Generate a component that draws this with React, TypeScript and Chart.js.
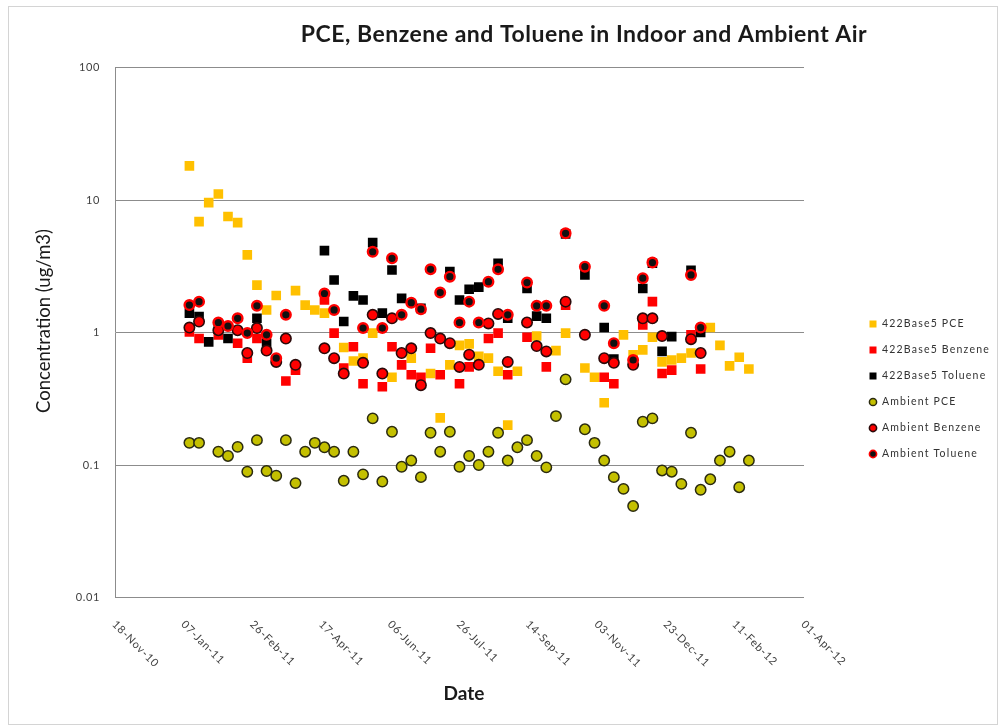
import { useEffect, useRef } from 'react';
import { Chart, registerables } from 'chart.js';

Chart.register(...registerables);

// ---------- data ----------
const sampleDates = [
  '2011-01-11', '2011-01-18', '2011-01-25', '2011-02-01', '2011-02-08', '2011-02-15', '2011-02-22', '2011-03-01',
  '2011-03-08', '2011-03-15', '2011-03-22', '2011-03-29', '2011-04-05', '2011-04-12', '2011-04-19', '2011-04-26',
  '2011-05-03', '2011-05-10', '2011-05-17', '2011-05-24', '2011-05-31', '2011-06-07', '2011-06-14', '2011-06-21',
  '2011-06-28', '2011-07-05', '2011-07-12', '2011-07-19', '2011-07-26', '2011-08-02', '2011-08-09', '2011-08-16',
  '2011-08-23', '2011-08-30', '2011-09-06', '2011-09-13', '2011-09-20', '2011-09-27', '2011-10-04', '2011-10-11',
  '2011-10-18', '2011-10-25', '2011-11-01', '2011-11-08', '2011-11-15', '2011-11-22', '2011-11-29', '2011-12-06',
  '2011-12-13', '2011-12-20', '2011-12-27', '2012-01-03', '2012-01-10', '2012-01-17', '2012-01-24', '2012-01-31',
  '2012-02-07', '2012-02-14', '2012-02-21',
];

const indoorPCE = [
  18.1, 6.87, 9.55, 11.1, 7.5, 6.75, 3.85, 2.28,
  1.48, 1.9, null, 2.07, 1.61, 1.48, 1.4, null,
  0.77, 0.61, 0.64, 0.99, null, 0.46, null, 0.64,
  null, 0.49, 0.227, 0.57, 0.8, 0.82, 0.66, 0.64,
  0.51, 0.2, 0.51, null, 0.94, null, 0.73, 0.99,
  null, 0.54, 0.46, 0.295, null, 0.96, 0.68, 0.74,
  0.92, 0.6, 0.62, 0.64, 0.7, null, 1.09, 0.8,
  0.56, 0.65, 0.53,
];

const indoorBenzene = [
  1.01, 0.9, null, 0.96, null, 0.83, 0.64, 0.9,
  null, null, 0.43, 0.52, null, null, 1.76, 0.99,
  0.54, 0.78, 0.41, null, 0.39, 0.78, 0.57, 0.48,
  0.46, 0.76, 0.48, null, 0.41, 0.55, null, 0.9,
  0.99, 0.48, null, 0.92, null, 0.55, null, 1.61,
  null, null, null, 0.46, 0.41, null, null, 1.14,
  1.71, 0.49, 0.52, null, 0.96, 0.53, null, null,
  null, null, null,
];

const indoorToluene = [
  1.4, 1.32, 0.85, 1.06, 0.9, null, null, 1.28,
  0.83, null, null, null, null, null, 4.15, 2.49,
  1.21, 1.89, 1.76, 4.77, 1.4, 2.96, 1.81, null,
  1.52, null, null, 2.88, 1.76, 2.12, 2.2, null,
  3.33, 1.28, null, 2.15, 1.33, 1.28, null, 5.55,
  null, 2.72, null, 1.09, 0.63, null, null, 2.15,
  3.33, 0.72, 0.93, null, 2.95, 1.0, null, null,
  null, null, null,
];

const ambientPCE = [
  0.147, 0.147, null, 0.126, 0.117, 0.137, 0.089, 0.154,
  0.09, 0.083, 0.154, 0.073, 0.126, 0.147, 0.136, 0.126,
  0.076, 0.126, 0.085, 0.225, 0.075, 0.178, 0.097, 0.108,
  0.081, 0.175, 0.126, 0.178, 0.097, 0.117, 0.1, 0.126,
  0.175, 0.108, 0.136, 0.154, 0.117, 0.096, 0.234, 0.443,
  null, 0.186, 0.147, 0.108, 0.081, 0.066, 0.049, 0.212,
  0.225, 0.091, 0.089, 0.072, 0.175, 0.065, 0.078, 0.108,
  0.126, 0.068, 0.108,
];

const ambientBenzene = [
  1.09, 1.21, null, 1.04, null, 1.04, 0.7, 1.08,
  0.73, 0.6, 0.9, 0.57, null, null, 0.76, 0.64,
  0.49, null, 0.59, 1.36, 0.49, 1.28, 0.7, 0.76,
  0.4, 0.99, 0.9, 0.83, 0.55, 0.68, 0.57, 1.17,
  1.38, 0.6, null, 1.19, 0.79, 0.72, null, 1.71,
  null, 0.96, null, 0.64, 0.59, null, 0.57, 1.28,
  1.28, 0.94, null, null, 0.89, 0.7, null, null,
  null, null, null,
];

const ambientToluene = [
  1.61, 1.71, null, 1.19, 1.12, 1.28, 0.99, 1.59,
  0.96, 0.64, 1.36, null, null, null, 1.97, 1.48,
  null, null, 1.08, 4.07, 1.08, 3.63, 1.36, 1.68,
  1.5, 3.0, 2.0, 2.64, 1.19, 1.71, 1.19, 2.42,
  3.0, 1.36, null, 2.38, 1.59, 1.59, null, 5.6,
  null, 3.14, null, 1.59, 0.83, null, 0.62, 2.57,
  3.37, null, null, null, 2.72, 1.09, null, null,
  null, null, null,
];

const seriesNames = [
  '422Base5 PCE',
  '422Base5 Benzene',
  '422Base5 Toluene',
  'Ambient PCE',
  'Ambient Benzene',
  'Ambient Toluene',
];

const xTickLabels = [
  '18-Nov-10', '07-Jan-11', '26-Feb-11', '17-Apr-11', '06-Jun-11', '26-Jul-11',
  '14-Sep-11', '03-Nov-11', '23-Dec-11', '11-Feb-12', '01-Apr-12',
];
const yTickValues = [0.01, 0.1, 1, 10, 100];
const yTickLabels = ['0.01', '0.1', '1', '10', '100'];

const titleText = 'PCE, Benzene and Toluene in Indoor and Ambient Air';
const xTitle = 'Date';
const yTitle = 'Concentration (ug/m3)';

// ---------- helpers ----------
const ORIGIN = Date.UTC(2010, 10, 18);
const toDay = (iso: string) => {
  const [y, m, d] = iso.split('-').map(Number);
  return (Date.UTC(y, m - 1, d) - ORIGIN) / 86400000;
};
const toPoints = (vals: (number | null)[]) =>
  vals
    .map((v, i) => (v == null ? null : { x: toDay(sampleDates[i]), y: v }))
    .filter((p) => p !== null) as { x: number; y: number }[];

const styles = [
  { pointStyle: 'rect', bg: '#FFC000', border: '#FFC000', bw: 0, r: 6.8 },
  { pointStyle: 'rect', bg: '#FF0000', border: '#FF0000', bw: 0, r: 6.8 },
  { pointStyle: 'rect', bg: '#000000', border: '#000000', bw: 0, r: 6.8 },
  { pointStyle: 'circle', bg: '#C4C000', border: '#2b2b10', bw: 1.5, r: 5.2 },
  { pointStyle: 'circle', bg: '#FF0000', border: '#2a0a0a', bw: 1.6, r: 5.2 },
  { pointStyle: 'circle', bg: '#111111', border: '#FF0000', bw: 2.4, r: 4.8 },
];

const allSeries = [indoorPCE, indoorBenzene, indoorToluene, ambientPCE, ambientBenzene, ambientToluene];

const decorPlugin = {
  id: 'decor',
  beforeDraw(chart: any) {
    const ctx = chart.ctx;
    ctx.save();
    ctx.fillStyle = '#ffffff';
    ctx.fillRect(0, 0, chart.width, chart.height);
    ctx.strokeStyle = '#d4d4d4';
    ctx.lineWidth = 1;
    ctx.strokeRect(8.5, 6.5, 989, 718);
    ctx.restore();
    ctx.letterSpacing = '0.6px';
  },
  afterDraw(chart: any) {
    const ctx = chart.ctx;
    const xs = chart.scales.x;
    const area = chart.chartArea;
    ctx.save();

    // title
    ctx.fillStyle = '#1a1a1a';
    ctx.font = 'bold 23px Lato';
    ctx.letterSpacing = '0.5px';
    ctx.textAlign = 'center';
    ctx.textBaseline = 'middle';
    ctx.fillText(titleText, 584, 35);
    ctx.letterSpacing = '0px';

    // x tick labels (rotated 45 deg clockwise)
    ctx.font = '11px Lato';
    ctx.letterSpacing = '0.8px';
    ctx.fillStyle = '#404040';
    xs.ticks.forEach((t: any) => {
      const idx = Math.round(t.value / 50);
      const label = xTickLabels[idx];
      if (!label) return;
      const px = xs.getPixelForValue(t.value);
      ctx.save();
      ctx.translate(px - 1, area.bottom + 25);
      ctx.rotate(Math.PI / 4);
      ctx.textAlign = 'left';
      ctx.textBaseline = 'middle';
      ctx.fillText(label, 0, 0);
      ctx.restore();
    });
    ctx.letterSpacing = '0px';

    // x title
    ctx.fillStyle = '#1a1a1a';
    ctx.font = 'bold 19px Lato';
    ctx.textAlign = 'center';
    ctx.textBaseline = 'middle';
    ctx.fillText(xTitle, 464, 694);

    // y title
    ctx.save();
    ctx.translate(44, 321);
    ctx.rotate(-Math.PI / 2);
    ctx.font = '18.5px Lato';
    ctx.fillStyle = '#1a1a1a';
    ctx.fillText(yTitle, 0, 0);
    ctx.restore();

    // legend
    ctx.font = '10.5px Lato';
    ctx.letterSpacing = '1.2px';
    ctx.textAlign = 'left';
    ctx.textBaseline = 'middle';
    chart.data.datasets.forEach((ds: any, i: number) => {
      const y = 324 + i * 26;
      const x = 873;
      const st = styles[i];
      ctx.save();
      ctx.fillStyle = ds.backgroundColor;
      ctx.strokeStyle = ds.borderColor;
      if (st.pointStyle === 'rect') {
        ctx.fillRect(x - 3.5, y - 3.5, 7, 7);
      } else {
        ctx.beginPath();
        ctx.arc(x, y, 3.6, 0, Math.PI * 2);
        ctx.fill();
        ctx.lineWidth = Math.min(st.bw, 1.6);
        ctx.stroke();
      }
      ctx.restore();
      ctx.fillStyle = '#333333';
      ctx.fillText(ds.label, 882, y);
    });
    ctx.restore();
  },
};

export default function App() {
  const canvasRef = useRef<HTMLCanvasElement | null>(null);

  useEffect(() => {
    if (!canvasRef.current) return;
    const datasets = allSeries.map((vals, i) => ({
      label: seriesNames[i],
      data: toPoints(vals),
      pointStyle: styles[i].pointStyle,
      backgroundColor: styles[i].bg,
      borderColor: styles[i].border,
      borderWidth: styles[i].bw,
      pointRadius: styles[i].r,
      pointHoverRadius: styles[i].r,
      showLine: false,
      order: 5 - i,
    }));

    const chart = new Chart(canvasRef.current, {
      type: 'scatter',
      data: { datasets: datasets as any },
      options: {
        animation: false,
        responsive: false,
        devicePixelRatio: 1,
        layout: { padding: { left: 0, right: 196, top: 67.5, bottom: 0 } },
        plugins: {
          legend: { display: false },
          tooltip: { enabled: false },
          title: { display: false },
        },
        scales: {
          x: {
            type: 'linear',
            min: 0,
            max: 500,
            ticks: { stepSize: 50, display: false },
            grid: { display: false },
            border: { display: false },
            afterFit: (s: any) => {
              s.height = 128.5;
            },
          },
          y: {
            type: 'logarithmic',
            min: 0.01,
            max: 100,
            afterBuildTicks: (s: any) => {
              s.ticks = yTickValues.map((v) => ({ value: v }));
            },
            ticks: {
              callback: (v: any) => {
                const i = yTickValues.findIndex((t) => Math.abs(t - Number(v)) < 1e-9);
                return i >= 0 ? yTickLabels[i] : '';
              },
              padding: 15,
              color: '#404040',
              font: { family: 'Lato', size: 11 },
            },
            grid: { color: '#8c8c8c', lineWidth: 1, drawTicks: false },
            border: { display: true, color: '#8c8c8c', width: 1 },
            afterFit: (s: any) => {
              s.width = 115;
            },
          },
        },
      } as any,
      plugins: [decorPlugin],
    });
    return () => chart.destroy();
  }, []);

  return (
    <div style={{ position: 'fixed', left: 0, top: 0, width: 1000, height: 726, background: '#fff' }}>
      <canvas ref={canvasRef} width={1000} height={726} style={{ display: 'block', width: 1000, height: 726 }} />
    </div>
  );
}
